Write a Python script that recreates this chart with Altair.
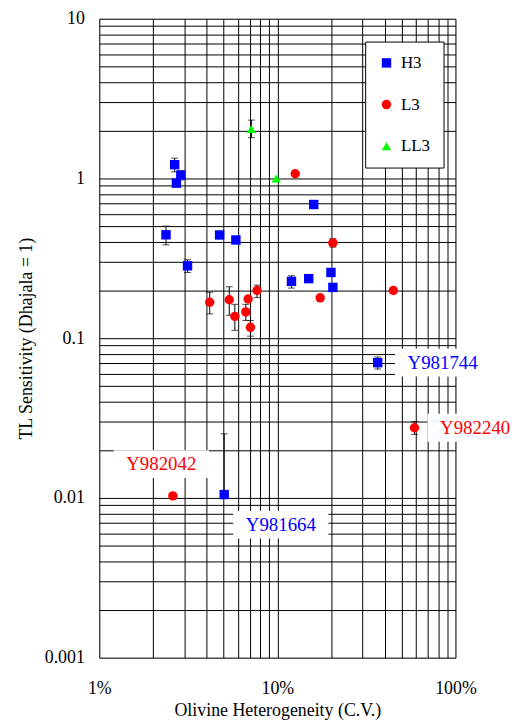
import altair as alt
import pandas as pd

# ---- data ----
h3_cv = [2.65, 2.87, 2.71, 2.37, 4.74, 5.85, 3.13, 16.0, 12.0, 15.0, 20.0, 20.5, 36.6, 5.03]
h3_tl = [1.22, 1.05, 0.935, 0.444, 0.443, 0.412, 0.284, 0.687, 0.227, 0.236, 0.258, 0.208, 0.0703, 0.0105]
h3_lo = [1.10, 0.98, None, 0.384, None, None, 0.258, None, 0.206, 0.226, None, None, 0.0641, 0.0105]
h3_hi = [1.34, 1.12, None, 0.503, None, None, 0.310, None, 0.246, 0.246, None, None, 0.0763, 0.0252]

l3_cv = [12.6, 20.5, 44.8, 17.4, 7.69, 6.85, 6.65, 7.06, 5.37, 5.77, 4.17, 58.9, 2.59]
l3_tl = [1.07, 0.395, 0.199, 0.179, 0.199, 0.176, 0.146, 0.117, 0.174, 0.137, 0.168, 0.0275, 0.0103]
l3_lo = [None, 0.372, None, None, 0.180, None, 0.129, 0.103, 0.139, 0.112, 0.142, 0.0250, None]
l3_hi = [None, 0.420, None, None, 0.215, None, 0.163, 0.129, 0.210, 0.163, 0.194, 0.0301, None]

ll3_cv = [7.15, 9.85]
ll3_tl = [2.04, 1.00]
ll3_lo = [1.80, None]
ll3_hi = [2.32, None]

label_text = ["Y981744", "Y982240", "Y982042", "Y981664"]
label_type = ["H3", "L3", "L3", "H3"]
label_cv = [84.7, 129.0, 2.23, 10.46]
label_tl = [0.0703, 0.0275, 0.01626, 0.00680]

groups = ["H3", "L3", "LL3"]
group_colors = ["#0000ff", "#ff0000", "#00ff00"]
group_shapes = ["square", "circle", "triangle-up"]
group_sizes = [90, 90, 120]

x_decades = [1, 10, 100]
y_decades = [0.001, 0.01, 0.1, 1, 10]
x_grid = [round(m * 10 ** e, 6) for e in range(0, 2) for m in range(1, 10)] + [100]
y_grid = [round(m * 10 ** e, 6) for e in range(-3, 1) for m in range(1, 10)] + [10]

# ---- tables ----
pts = pd.DataFrame({
    "cv": h3_cv + l3_cv + ll3_cv,
    "tl": h3_tl + l3_tl + ll3_tl,
    "lo": h3_lo + l3_lo + ll3_lo,
    "hi": h3_hi + l3_hi + ll3_hi,
    "type": ["H3"] * len(h3_cv) + ["L3"] * len(l3_cv) + ["LL3"] * len(ll3_cv),
})
err = pts.dropna(subset=["lo", "hi"]).copy()
caps = pd.concat([
    pd.DataFrame({"cv": err["cv"], "cap": err["hi"]}),
    pd.DataFrame({"cv": err["cv"], "cap": err["lo"]})[err["lo"] < err["tl"]],
])
labels = pd.DataFrame({"cv": label_cv, "tl": label_tl, "text": label_text, "type": label_type})

FONT = "Liberation Serif"

xs = alt.Scale(type="log", domain=[1, 100], nice=False)
ys = alt.Scale(type="log", domain=[0.001, 10], nice=False)

x_axis = alt.Axis(
    values=x_grid,
    labelExpr="indexof(" + str(x_decades) + ", datum.value) >= 0 ? format(datum.value, '~g') + '%' : ''",
    title="Olivine Heterogeneity (C.V.)",
    grid=True, gridColor="black", gridWidth=1, gridOpacity=1,
    ticks=False, tickSize=0, domain=False,
    labelPadding=22, labelFont=FONT, labelFontSize=18, labelColor="black",
    labelOverlap=False, labelFlush=False,
    titleFont=FONT, titleFontSize=18, titleFontWeight="normal", titleColor="black",
    titlePadding=4,
)
y_axis = alt.Axis(
    values=y_grid,
    labelExpr="indexof(" + str(y_decades) + ", datum.value) >= 0 ? format(datum.value, '~g') : ''",
    title="TL Sensitivity (Dhajala = 1)",
    grid=True, gridColor="black", gridWidth=1, gridOpacity=1,
    ticks=False, tickSize=0, domain=False,
    labelPadding=15, labelFont=FONT, labelFontSize=18, labelColor="black",
    labelOverlap=False, labelFlush=False,
    titleFont=FONT, titleFontSize=18, titleFontWeight="normal", titleColor="black",
    titleX=-73, titleY=322, titleAngle=270, titleAlign="center", titleBaseline="middle",
)

legend = alt.Legend(
    title=None, orient="none", legendX=268, legendY=23,
    fillColor="white", strokeColor="black", padding=13,
    labelFont=FONT, labelFontSize=17, labelColor="black", labelOffset=6,
    symbolStrokeWidth=0, rowPadding=24,
)
color = alt.Color("type:N", scale=alt.Scale(domain=groups, range=group_colors), legend=legend)
shape = alt.Shape("type:N", scale=alt.Scale(domain=groups, range=group_shapes), legend=legend)
size = alt.Size("type:N", scale=alt.Scale(domain=groups, range=group_sizes), legend=legend)

boxes = alt.Chart(labels).mark_rect(
    color="white", xOffset=-48, x2Offset=48, yOffset=-14, y2Offset=14
).encode(
    x=alt.X("cv:Q", scale=xs, axis=x_axis),
    x2="cv:Q",
    y=alt.Y("tl:Q", scale=ys, axis=y_axis),
    y2="tl:Q",
)

bars = alt.Chart(err).mark_rule(color="black", strokeWidth=1).encode(
    x=alt.X("cv:Q", scale=xs),
    y=alt.Y("lo:Q", scale=ys),
    y2="hi:Q",
)

capmarks = alt.Chart(caps).mark_tick(color="black", orient="horizontal", size=7, thickness=1).encode(
    x=alt.X("cv:Q", scale=xs),
    y=alt.Y("cap:Q", scale=ys),
)

points = alt.Chart(pts).mark_point(filled=True, opacity=1).encode(
    x=alt.X("cv:Q", scale=xs),
    y=alt.Y("tl:Q", scale=ys),
    color=color,
    shape=shape,
    size=size,
)

texts = alt.Chart(labels).mark_text(font=FONT, fontSize=19, align="center", baseline="middle").encode(
    x=alt.X("cv:Q", scale=xs),
    y=alt.Y("tl:Q", scale=ys),
    text="text:N",
    color=alt.Color("type:N", scale=alt.Scale(domain=groups, range=group_colors), legend=None),
)

chart = alt.layer(boxes, bars, capmarks, points, texts).properties(
    width=359,
    height=644,
    autosize=alt.AutoSizeParams(type="none"),
    padding={"left": 92, "top": 8, "right": 57, "bottom": 60},
).configure_view(
    stroke="black", strokeWidth=1.5
).configure_legend(
    strokeWidth=1, cornerRadius=0, labelFont=FONT, labelFontSize=17
).configure(background="white")

chart.save("out.html", embed_options={"renderer": "svg", "actions": False})
